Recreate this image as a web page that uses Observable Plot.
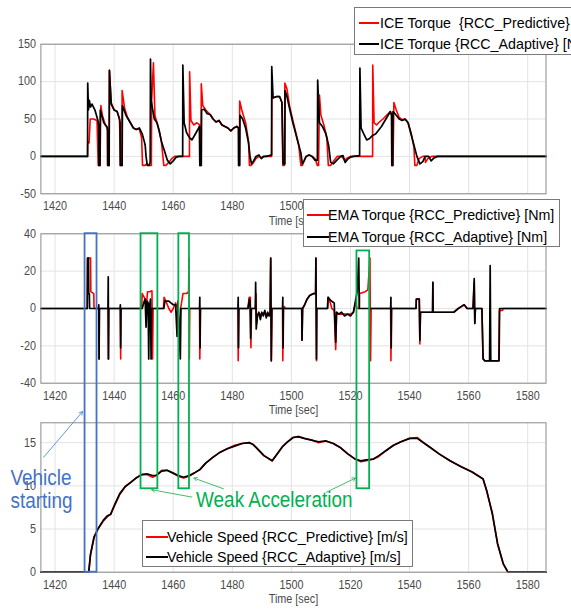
<!DOCTYPE html>
<html>
<head>
<meta charset="utf-8">
<script src="https://cdn.jsdelivr.net/npm/d3@7"></script>
<script src="https://cdn.jsdelivr.net/npm/@observablehq/plot@0.6"></script>
<style>
  html, body { margin: 0; padding: 0; background: #fff; }
  #chart { position: relative; width: 571px; height: 610px; overflow: hidden; background: #fff; }
  #chart svg { position: absolute; left: 0; top: 0; }
  .legend { position: absolute; background: #fff; border: 1px solid #7a7a7a; box-sizing: border-box;
            font-family: "Liberation Sans", Arial, Helvetica, sans-serif;
            font-size: 15px; color: #000; white-space: pre; }
  .legend .row { position: absolute; left: 0; height: 20px; line-height: 20px; }
  .legend .swatch { position: absolute; top: 9px; height: 2px; }
  .legend .label { position: absolute; top: 0; transform: scaleX(0.95); transform-origin: 0 50%; }
</style>
</head>
<body>
<div id="chart"></div>
<script>
const FONT = '"Liberation Sans", Arial, Helvetica, sans-serif';

// ---------- data ----------
const timeTicks = [1420, 1440, 1460, 1480, 1500, 1520, 1540, 1560, 1580];
const iceTicks = [-50, 0, 50, 100, 150];
const emaTicks = [-40, -20, 0, 20, 40];
const speedTicks = [0, 5, 10, 15];

const iceAdaptive = [
[1415.2,0],[1431.0,0],[1431.05,98],[1431.3,62],[1431.6,75],[1432.0,66],[1432.5,70],[1433.5,62],[1434.5,48],[1434.8,40],[1434.85,-12],[1435.2,-12],[1435.3,62],[1435.8,55],[1436.5,45],[1437.5,40],[1437.8,35],[1437.85,-12],[1438.3,-12],[1438.4,115],[1439.0,70],[1440,62],[1441,60],[1441.8,50],[1442.0,45],[1442.05,-12],[1442.7,-12],[1442.8,68],[1444,55],[1445.5,45],[1446.5,38],[1447.5,36],[1448.5,38],[1449.5,30],[1450.2,20],[1450.5,15],[1450.8,0],[1451.2,-12],[1451.8,-12],[1452.2,-8],[1452.3,130],[1452.5,75],[1453.6,50],[1454.5,45],[1455.2,35],[1456,20],[1457,8],[1458,-5],[1459,-10],[1460,-6],[1461,-1],[1462,0],[1463.2,0],[1463.25,122],[1463.7,45],[1464.5,32],[1465.5,25],[1466.3,22],[1467.2,28],[1468.2,35],[1468.9,40],[1469.0,-12],[1469.5,-12],[1469.6,62],[1470.5,63],[1471.5,57],[1472.5,56],[1473.5,50],[1474.5,46],[1475.5,48],[1476.5,42],[1477.5,40],[1478.5,38],[1479.5,34],[1480.5,38],[1481.5,40],[1482.1,38],[1482.15,-12],[1482.5,-12],[1482.6,55],[1483.5,50],[1484.5,38],[1485.5,18],[1486.0,0],[1486.5,-10],[1487.2,-6],[1488.0,0],[1489,2],[1489.8,-3],[1490.5,0],[1491.5,0],[1492.5,1],[1493.3,2],[1493.35,120],[1493.8,78],[1495,80],[1496,80],[1496.8,72],[1497.2,-10],[1497.8,-10],[1497.85,88],[1498.5,80],[1499.5,62],[1500.5,45],[1501.5,30],[1502.5,15],[1503.2,5],[1503.7,-10],[1504.3,-6],[1505,0],[1506,2],[1507,0],[1508.0,-5],[1508.8,-5],[1508.9,102],[1509.5,45],[1510.5,40],[1511.7,30],[1512.6,15],[1513.3,-8],[1514.2,-10],[1515.4,-5],[1516.7,0],[1517.5,1],[1518.2,-8],[1519,-4],[1520,-1],[1521,0],[1523.1,1],[1523.2,118],[1523.6,38],[1524.5,30],[1525.5,22],[1526.5,24],[1527.5,28],[1528.5,30],[1529.5,35],[1530.5,40],[1532,50],[1533.5,60],[1533.9,55],[1534.0,-12],[1534.3,-12],[1534.4,60],[1535.5,55],[1536.5,50],[1537.5,48],[1538.5,50],[1539.5,45],[1540.5,30],[1541.5,15],[1542.5,0],[1543.5,-10],[1544.5,-7],[1545.3,0],[1546.5,0],[1547.3,-6],[1548.3,-2],[1549.5,0],[1586.2,0]
];

const icePredictive = [
[1415.2,0],[1431.0,0],[1431.05,20],[1431.5,18],[1431.9,50],[1433,50],[1434.2,48],[1434.6,-12],[1435.2,-12],[1435.5,68],[1436,55],[1437,42],[1437.7,38],[1437.75,-12],[1438.3,-12],[1438.4,115],[1439,72],[1440,62],[1441,60],[1441.8,50],[1442.2,-12],[1442.6,-12],[1442.7,88],[1443.5,65],[1444.5,52],[1445.5,45],[1446.5,38],[1447.5,36],[1448.5,37],[1449.3,25],[1449.6,-12],[1450.5,-12],[1451,-10],[1451.8,-12],[1452.6,-12],[1452.7,75],[1453.3,125],[1453.8,55],[1454.5,45],[1455.2,35],[1456,20],[1456.8,-12],[1457.5,-12],[1458.5,-8],[1459.5,-3],[1460.5,0],[1462,0],[1465.5,0],[1465.55,113],[1466,48],[1467,42],[1468,45],[1468.9,42],[1469.0,-12],[1469.4,-12],[1469.5,97],[1470,68],[1471,62],[1472.5,56],[1473.5,50],[1474.5,46],[1475.5,48],[1476.5,42],[1477.5,40],[1478.5,38],[1479.5,34],[1480.5,38],[1481.5,40],[1482.1,38],[1482.15,-12],[1482.4,-12],[1482.5,74],[1483.2,62],[1484.5,45],[1485.5,20],[1485.8,-12],[1486.4,-12],[1487.2,-8],[1488,-3],[1489,0],[1490,-2],[1491,0],[1493.3,0],[1493.4,78],[1495,80],[1496,80],[1496.8,72],[1497.1,-12],[1497.6,-12],[1497.8,98],[1498.5,90],[1499.5,65],[1500.5,48],[1501.5,32],[1502.5,15],[1503.2,-12],[1503.7,-12],[1504.3,-6],[1505,0],[1506,2],[1507,0],[1508,-3],[1508.8,-12],[1509.2,-12],[1509.5,82],[1510,55],[1511,42],[1512,25],[1512.5,-12],[1513.3,-12],[1514.5,-5],[1515.5,0],[1517,0],[1518,-5],[1519,-2],[1520,0],[1527.5,0],[1527.55,122],[1528,45],[1528.8,42],[1529.5,45],[1531,50],[1533.5,60],[1534.0,55],[1534.05,-12],[1534.4,-12],[1534.7,72],[1535.5,62],[1536.5,52],[1537.5,49],[1538.5,50],[1539.5,45],[1540.5,32],[1541.5,12],[1541.8,-12],[1542.5,-12],[1543.2,-3],[1544.5,0],[1545.2,0],[1545.4,-8],[1546.2,-3],[1547.5,0],[1586.2,0]
];

const emaAdaptive = [
[1415.2,0],[1430.9,0],[1431.0,27],[1431.3,27],[1431.4,8],[1431.6,8],[1431.7,0],
[1434.7,0],[1434.8,2],[1434.9,-27],[1435.0,0],
[1437.9,0],[1438.0,17],[1438.1,-27],[1438.2,0],
[1442.0,0],[1442.1,2],[1442.2,-21],[1442.3,0],
[1449.5,0],[1450.0,3],[1450.5,5],[1450.8,-10],[1451.1,4],[1451.5,3],[1451.7,-27],[1451.9,0],[1452.3,5],[1452.5,-27],[1452.7,0],
[1456.8,0],[1457.2,4],[1458.5,4],[1459.2,3],[1460.0,2],[1460.8,2],[1461.3,-15],[1461.6,4],[1462.4,-27],[1462.6,0],
[1468.9,0],[1469.0,6],[1469.1,-21],[1469.2,0],
[1481.9,0],[1482.0,6],[1482.1,-21],[1482.2,0],
[1485.3,0],[1485.8,5],[1486.0,4],[1486.2,-16],[1486.4,0],[1487.8,0],[1487.9,14],[1488.1,-11],[1488.5,-4],[1489,-2],[1489.5,-6],[1490,-2],[1490.5,-4],[1491,-1],[1491.5,-5],[1492,-2],[1492.5,-4],[1492.8,-3],[1493.0,27],[1493.2,-28],[1493.4,0],
[1497.0,0],[1497.1,6],[1497.2,-21],[1497.3,0],
[1503.5,0],[1503.6,-17],[1503.8,0],[1504.5,2],[1505.3,5],[1506.2,7],[1507.5,8],[1508.2,8],[1508.3,27],[1508.5,-27],[1508.6,0],
[1512.2,0],[1512.4,6],[1513.5,4],[1514.5,3],[1515.0,-18],[1515.3,-2],[1516,-3],[1517,-2],[1518,-4],[1519,-3],[1520,-4],[1521,-2],[1521.8,5],[1522.3,9],[1522.8,27],[1523.0,0],
[1533.6,0],[1533.7,6],[1533.8,-21],[1533.9,0],
[1542.2,0],[1542.3,5],[1543.3,5],[1543.5,-17],[1543.7,-2],[1547.8,-2],[1547.9,14],[1548.0,-2],[1555,-2],[1556.5,0],[1557.5,1],[1558.5,2],[1559.5,0],[1561.5,0],[1561.9,16],[1562.1,-8],[1562.3,0],[1564.5,0],[1564.9,-27],[1565.5,-28],[1567.1,-28],[1567.3,23],[1567.5,-28],[1570.3,-28],[1570.5,0],[1586.2,0]
];

const emaPredictive = [
[1415.2,0],[1430.9,0],[1431.0,27],[1432.0,27],[1432.1,9],[1433.1,8],[1433.2,0],
[1434.8,0],[1434.9,-27],[1435.0,0],
[1437.9,0],[1438.0,-27],[1438.1,0],
[1442.1,0],[1442.2,-27],[1442.3,0],
[1449.3,0],[1449.5,8],[1450.5,5],[1451.0,3],[1451.3,9],[1452.0,9],[1452.8,9.5],[1453.0,-27],[1453.2,0],
[1456.7,0],[1456.9,6],[1457.5,4],[1458.5,0],[1459.3,-2],[1460,0],[1460.8,3],[1461.5,0],[1462.2,-12],[1462.5,0],[1463.3,8],[1464.5,8],[1465.2,9],[1465.35,27],[1465.45,-27],[1465.6,0],
[1468.9,0],[1469.0,-27],[1469.2,0],
[1481.9,0],[1482.0,-28],[1482.2,0],
[1485.3,0],[1485.7,6],[1486.1,6],[1486.3,-21],[1486.5,0],[1487.8,0],[1488.0,8],[1488.2,-8],[1488.6,-3],[1490,-3],[1491,-2],[1492,-4],[1492.8,-3],[1493.0,27],[1493.2,-28],[1493.4,0],
[1497.0,0],[1497.1,-28],[1497.3,0],[1497.6,1],[1498,0],
[1503.5,0],[1503.6,-17],[1503.8,0],[1504.5,2],[1505.3,5],[1506.2,7],[1507.5,8],[1508.2,8],[1508.3,27],[1508.5,-28],[1508.6,0],
[1512.3,0],[1512.5,6],[1513.2,3],[1513.7,0],[1514.5,-1],[1515.0,-22],[1515.3,-2],[1516,-3],[1518,-3],[1520,-3],[1521,-2],[1521.8,3],[1522.2,0],[1523.0,0],[1523.1,8],[1525.0,9],[1525.9,10],[1526.6,27],[1526.8,-28],[1527.0,0],
[1533.6,0],[1533.7,-28],[1533.9,0],
[1542.2,0],[1542.3,5],[1543.3,5],[1543.5,-19],[1543.7,-2],[1547.8,-2],[1547.9,14],[1548.0,-2],[1555,-2],[1556.5,0],[1557.5,1],[1558.5,2],[1559.5,0],[1561.5,0],[1561.9,14],[1562.1,-8],[1562.3,0],[1564.5,0],[1564.9,-27],[1565.5,-28],[1567.1,-28],[1567.3,-27],[1567.5,-28],[1570.2,-28],[1570.4,-1],[1571.5,-1],[1571.7,0],[1586.2,0]
];

const speedAdaptive = [
[1415.2,0],[1431.4,0],[1432.0,2.1],[1433.2,4.1],[1434.5,5.0],[1436.3,6.0],[1437.6,6.5],[1438.8,6.7],[1440.0,7.7],[1441.9,9.1],[1443.7,9.9],[1445.6,10.4],[1447.4,10.9],[1449.3,11.3],[1451.1,11.4],[1453.0,11.2],[1454.2,11.2],[1456.1,11.7],[1457.9,11.8],[1459.8,11.5],[1461.7,11.2],[1463.5,11.0],[1465.4,11.2],[1467.2,11.5],[1469.1,11.9],[1470.9,12.6],[1473.4,13.3],[1475.9,13.9],[1478.3,14.3],[1480.8,14.6],[1483.3,14.9],[1485.8,15.0],[1487.0,14.8],[1488.2,14.4],[1490.7,13.5],[1493.5,12.9],[1495.0,13.6],[1496.9,14.5],[1498.7,15.1],[1500.6,15.6],[1502.4,15.7],[1504.3,15.5],[1506.8,15.3],[1509.2,15.1],[1511.7,15.2],[1514.2,14.9],[1516.7,14.4],[1519.1,13.7],[1521.6,13.1],[1523.5,12.9],[1525.3,13.0],[1527.8,13.1],[1529.6,13.5],[1532.1,14.1],[1534.6,14.7],[1537.1,15.1],[1540.1,15.5],[1542.6,15.5],[1545.1,14.9],[1547.6,14.3],[1550.0,13.7],[1553.7,12.9],[1557.5,12.2],[1561.2,11.6],[1564.9,10.8],[1566.1,9.5],[1568.0,6.8],[1569.8,3.3],[1571.7,1.0],[1573.3,0],[1586.2,0]
];

const speedPredictive = [
[1415.2,0],[1431.4,0],[1432.0,2.0],[1433.2,4.0],[1434.5,5.0],[1436.3,5.9],[1437.6,6.4],[1438.8,6.7],[1440.0,7.6],[1441.9,9.0],[1443.7,9.9],[1445.6,10.4],[1447.4,10.9],[1449.3,11.3],[1451.1,11.3],[1453.0,11.0],[1454.2,11.2],[1456.1,11.8],[1457.9,11.8],[1459.8,11.5],[1461.7,11.1],[1463.5,10.9],[1465.4,11.1],[1467.2,11.5],[1469.1,11.9],[1470.9,12.6],[1473.4,13.3],[1475.9,13.9],[1478.3,14.3],[1480.8,14.7],[1483.3,14.9],[1485.8,15.0],[1487.0,14.8],[1488.2,14.4],[1490.7,13.5],[1493.5,12.9],[1495.0,13.6],[1496.9,14.5],[1498.7,15.1],[1500.6,15.6],[1502.4,15.7],[1504.3,15.5],[1506.8,15.3],[1509.2,15.0],[1511.7,15.2],[1514.2,14.9],[1516.7,14.4],[1519.1,13.7],[1521.6,13.1],[1523.5,12.8],[1525.3,12.9],[1527.8,13.1],[1529.6,13.4],[1532.1,14.1],[1534.6,14.7],[1537.1,15.1],[1540.1,15.5],[1542.6,15.6],[1545.1,14.9],[1547.6,14.3],[1550.0,13.7],[1553.7,12.9],[1557.5,12.2],[1561.2,11.6],[1564.9,10.8],[1566.1,9.4],[1568.0,6.9],[1569.8,3.3],[1571.7,1.0],[1573.3,0],[1586.2,0]
];

// annotation boxes (time range, speed-axis range extended into the upper panel)
const startBox = [{t1: 1430.15, t2: 1434.2, v1: 0, v2: 39.2}];
const weakBoxes = [
  {t1: 1449.1, t2: 1454.8, v1: 9.66, v2: 39.2},
  {t1: 1461.9, t2: 1465.5, v1: 9.66, v2: 39.2},
  {t1: 1522.2, t2: 1526.5, v1: 9.66, v2: 37.2}
];
const startArrow = [{t1: 1416.1, v1: 13.3, t2: 1429.3, v2: 18.6}];
const weakArrows = [
  {t1: 1466.3, v1: 8.7, t2: 1452.7, v2: 9.55},
  {t1: 1477.0, v1: 9.66, t2: 1467.0, v2: 10.9},
  {t1: 1511.9, v1: 9.27, t2: 1521.7, v2: 10.9}
];
const startLabels = [{t: 1404.9, v: 10.97, text: "Vehicle"}, {t: 1404.9, v: 8.2, text: "starting"}];
const weakLabels = [{t: 1494.2, v: 8.42, text: "Weak Acceleration"}];

// ---------- layout ----------
const W = 571, H = 610;
const X_DOMAIN = [1415.2, 1586.2];
const ML = 40.4, MR = 25.5;
const GRID = "#e3e3e3", FRAME = "#8c8c8c", TEXT = "#4a4a4a";

function panel({top, bottom, yDomain, yTicks, series, extra = []}) {
  return Plot.plot({
    width: W, height: H,
    marginLeft: ML, marginRight: MR, marginTop: top, marginBottom: H - bottom,
    style: {background: "none", fontFamily: FONT, fontSize: "12px", color: TEXT, overflow: "visible"},
    x: {domain: X_DOMAIN},
    y: {domain: yDomain},
    marks: [
      Plot.gridX(timeTicks, {stroke: GRID, strokeOpacity: 1}),
      Plot.gridY(yTicks, {stroke: GRID, strokeOpacity: 1}),
      Plot.axisX(timeTicks, {tickSize: 0, tickPadding: 8, tickFormat: d => String(d), label: null}),
      Plot.axisY(yTicks, {tickSize: 0, tickPadding: 5, tickFormat: d => String(d), label: null}),
      Plot.text(["Time [sec]"], {frameAnchor: "bottom", dy: 31, text: d => d, fill: TEXT, fontSize: 12}),
      Plot.line(series[0], {x: d => d[0], y: d => d[1], stroke: "#ff0000", strokeWidth: 1.6}),
      Plot.line(series[1], {x: d => d[0], y: d => d[1], stroke: "#000000", strokeWidth: 1.7}),
      Plot.frame({stroke: FRAME, strokeWidth: 1}),
      ...extra
    ]
  });
}

// the reference figure is horizontally squeezed: condense SVG text the same way
function condense(svg) {
  svg.querySelectorAll("text").forEach(t => {
    const L = t.getComputedTextLength();
    if (!(L > 0)) return;
    const fs = parseFloat(getComputedStyle(t).fontSize) || 12;
    const k = fs > 16 ? 0.86 : 0.9;
    t.setAttribute("textLength", (L * k).toFixed(2));
    t.setAttribute("lengthAdjust", "spacingAndGlyphs");
  });
}

const chart = document.getElementById("chart");
function add(svg) { chart.appendChild(svg); condense(svg); }

add(panel({top: 43.7, bottom: 193.3, yDomain: [-50, 150], yTicks: iceTicks,
  series: [icePredictive, iceAdaptive]}));
add(panel({top: 233.3, bottom: 382.7, yDomain: [-40, 40], yTicks: emaTicks,
  series: [emaPredictive, emaAdaptive]}));
add(panel({top: 422.3, bottom: 571.7, yDomain: [0, 17.3], yTicks: speedTicks,
  series: [speedPredictive, speedAdaptive],
  extra: [
    Plot.rect(startBox, {x1: "t1", x2: "t2", y1: "v1", y2: "v2", fill: "none", stroke: "#4472c4", strokeWidth: 1.8}),
    Plot.rect(weakBoxes, {x1: "t1", x2: "t2", y1: "v1", y2: "v2", fill: "none", stroke: "#00b050", strokeWidth: 1.8}),
    Plot.arrow(startArrow, {x1: "t1", y1: "v1", x2: "t2", y2: "v2", stroke: "#4f8fd6", strokeWidth: 0.9, headLength: 6}),
    Plot.arrow(weakArrows, {x1: "t1", y1: "v1", x2: "t2", y2: "v2", stroke: "#2fb35a", strokeWidth: 0.9, headLength: 6}),
    Plot.text(startLabels, {x: "t", y: "v", text: "text", textAnchor: "start", fill: "#4472c4", fontSize: 22}),
    Plot.text(weakLabels, {x: "t", y: "v", text: "text", fill: "#00b050", fontSize: 22})
  ]}));

// ---------- legends ----------
function legend({left, top, width, height, rows, rowTops, swatchLeft, swatchWidth, textLeft}) {
  const box = document.createElement("div");
  box.className = "legend";
  Object.assign(box.style, {left: left + "px", top: top + "px", width: width + "px", height: height + "px"});
  rows.forEach((r, i) => {
    const row = document.createElement("div");
    row.className = "row";
    row.style.top = rowTops[i] + "px";
    row.style.width = "100%";
    const sw = document.createElement("div");
    sw.className = "swatch";
    Object.assign(sw.style, {left: swatchLeft + "px", width: swatchWidth + "px", background: r.color});
    const lb = document.createElement("div");
    lb.className = "label";
    lb.style.left = textLeft + "px";
    lb.textContent = r.label;
    row.appendChild(sw); row.appendChild(lb);
    box.appendChild(row);
  });
  chart.appendChild(box);
}

legend({left: 354, top: 7, width: 260, height: 47.5, rowTops: [4.5, 26],
  swatchLeft: 4, swatchWidth: 20, textLeft: 25,
  rows: [{label: "ICE Torque  {RCC_Predictive} [Nm]", color: "#ff0000"},
         {label: "ICE Torque {RCC_Adaptive} [Nm]", color: "#000000"}]});
legend({left: 303, top: 199.3, width: 257, height: 48, rowTops: [4.5, 26.5],
  swatchLeft: 3, swatchWidth: 21.5, textLeft: 24,
  rows: [{label: "EMA Torque {RCC_Predictive} [Nm]", color: "#ff0000"},
         {label: "EMA Torque {RCC_Adaptive} [Nm]", color: "#000000"}]});
legend({left: 142, top: 520, width: 270.5, height: 46.5, rowTops: [5.5, 25.5],
  swatchLeft: 2.5, swatchWidth: 22, textLeft: 23.5,
  rows: [{label: "Vehicle Speed {RCC_Predictive} [m/s]", color: "#ff0000"},
         {label: "Vehicle Speed {RCC_Adaptive} [m/s]", color: "#000000"}]});
</script>
</body>
</html>
